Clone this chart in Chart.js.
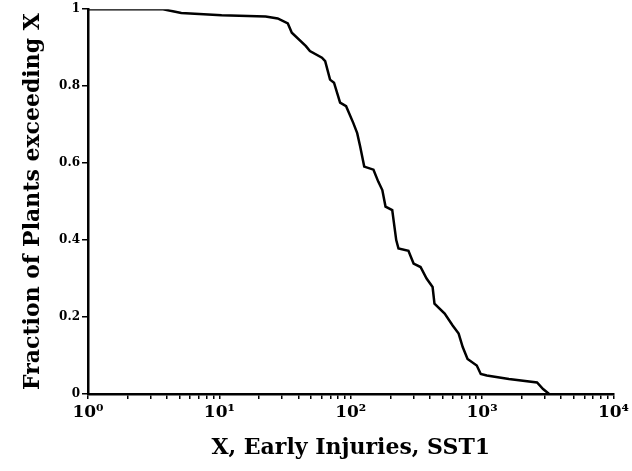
<!DOCTYPE html>
<html>
<head>
<meta charset="utf-8">
<script src="https://cdn.jsdelivr.net/npm/chart.js@4"></script>
<style>
  html, body { margin: 0; padding: 0; background: #fff; }
  #wrap { width: 632px; height: 471px; }
</style>
</head>
<body>
<div id="wrap"><canvas id="ccdfChart"></canvas></div>
<script>
// early injuries (x) and fraction of plants exceeding x
const injuries = [1, 3.73, 5.13, 10.4, 22.5, 27.8, 33.2, 35.6, 45.6, 48.9, 60.4, 63.9, 69.6, 74.6,
  83, 92.2, 104.7, 112, 118, 126.7, 149, 162, 174, 184, 207, 222, 231, 275, 301, 340, 378, 420,
  434, 519, 597, 663, 712, 775, 911, 977, 1086, 1600, 2620, 2913, 3240];
const fraction = [1, 1, 0.99, 0.984, 0.981, 0.976, 0.963, 0.939, 0.904, 0.891, 0.874, 0.865, 0.817, 0.809,
  0.757, 0.748, 0.704, 0.678, 0.643, 0.591, 0.583, 0.552, 0.53, 0.487, 0.478, 0.4, 0.378, 0.372, 0.339, 0.33, 0.3, 0.278,
  0.235, 0.209, 0.178, 0.157, 0.122, 0.091, 0.074, 0.052, 0.048, 0.039, 0.03, 0.013, 0];

const xTicks = [];
for (let e = 0; e < 4; e++) {
  for (let m = 1; m <= 9; m++) xTicks.push(m * Math.pow(10, e));
}
xTicks.push(10000);
const yTicks = [0, 0.2, 0.4, 0.6, 0.8, 1];
const sup = ['\u2070', '\u00b9', '\u00b2', '\u00b3', '\u2074'];

const serif = '"DejaVu Serif", serif';

const ctx = document.getElementById('ccdfChart').getContext('2d');
new Chart(ctx, {
  type: 'line',
  data: {
    datasets: [{
      data: injuries.map((x, i) => ({ x: x, y: fraction[i] })),
      borderColor: '#000',
      borderWidth: 2.5,
      pointRadius: 0,
      fill: false,
      tension: 0
    }]
  },
  options: {
    responsive: true,
    maintainAspectRatio: false,
    animation: false,
    layout: { padding: { top: 9, right: 18, left: 0, bottom: 0 } },
    plugins: { legend: { display: false }, tooltip: { enabled: false } },
    scales: {
      x: {
        type: 'logarithmic',
        min: 1,
        max: 10000,
        afterBuildTicks: s => { s.ticks = xTicks.map(v => ({ value: v })); },
        afterFit: s => { s.height = 77; },
        border: { display: true, color: '#000', width: 2.5 },
        grid: { drawOnChartArea: false, drawTicks: true, tickLength: 5, color: '#000', lineWidth: 1.5 },
        ticks: {
          autoSkip: false,
          maxRotation: 0,
          padding: 3,
          color: '#000',
          font: { family: serif, size: 17, weight: 'bold' },
          callback: v => {
            const e = Math.round(Math.log10(v));
            return Math.abs(Math.pow(10, e) - v) < 1e-9 ? '10' + sup[e] : '';
          }
        },
        title: {
          display: true,
          text: 'X, Early Injuries, SST1',
          color: '#000',
          font: { family: serif, size: 22, weight: 'bold' },
          padding: { top: 10, bottom: 10 }
        }
      },
      y: {
        min: 0,
        max: 1,
        afterBuildTicks: s => { s.ticks = yTicks.map(v => ({ value: v })); },
        afterFit: s => { s.width = 88; },
        border: { display: true, color: '#000', width: 2.5 },
        grid: { drawOnChartArea: false, drawTicks: true, tickLength: 6, color: '#000', lineWidth: 1.5 },
        ticks: {
          padding: 2,
          color: '#000',
          font: { family: serif, size: 12, weight: 'bold' },
          callback: v => String(v)
        },
        title: {
          display: true,
          text: 'Fraction of Plants exceeding X',
          color: '#000',
          font: { family: serif, size: 22, weight: 'bold' },
          padding: { top: 20, bottom: 20 }
        }
      }
    }
  }
});
</script>
</body>
</html>
